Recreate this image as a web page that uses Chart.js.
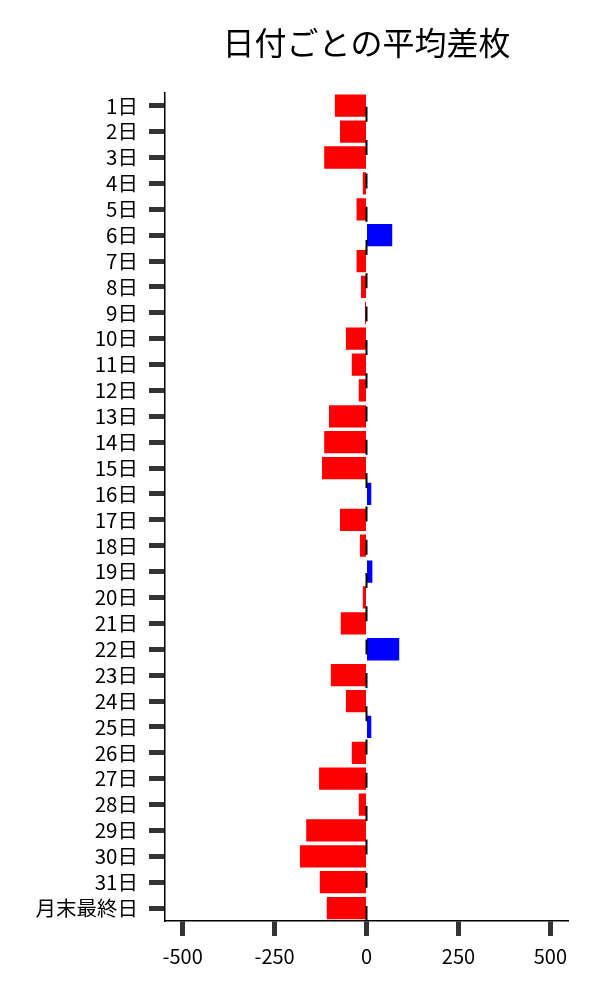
<!DOCTYPE html>
<html>
<head>
<meta charset="utf-8">
<script src="https://cdn.jsdelivr.net/npm/chart.js@4"></script>
<style>
  html, body { margin: 0; padding: 0; background: #fff; }
  #chart { display: block; }
</style>
</head>
<body>
<canvas id="chart" width="600" height="1000"></canvas>
<script>
// Days of the month plus the last-day bucket
const dayLabels = [
  '1日', '2日', '3日', '4日', '5日', '6日', '7日', '8日', '9日', '10日',
  '11日', '12日', '13日', '14日', '15日', '16日', '17日', '18日', '19日', '20日',
  '21日', '22日', '23日', '24日', '25日', '26日', '27日', '28日', '29日', '30日',
  '31日', '月末最終日'
]

// Average difference per day
const avgDiff = [
  -86, -72, -115, -10, -27, 70, -27, -15, -4, -56,
  -40, -21, -102, -115, -121, 13, -72, -18, 16, -10,
  -70, 89, -97, -56, 13, -40, -129, -21, -164, -181,
  -127, -108
]

const xTicks = [-500, -250, 0, 250, 500]
const titleText = '日付ごとの平均差枚'

const FONT = '"Noto Sans CJK JP", "Noto Sans", sans-serif'

// Dashed vertical line at x = 0, drawn above the bars
const zeroLine = {
  id: 'zeroLine',
  afterDatasetsDraw(chart) {
    const { ctx, chartArea, scales } = chart
    const x = scales.x.getPixelForValue(0)
    ctx.save()
    ctx.strokeStyle = '#000'
    ctx.lineWidth = 2
    ctx.setLineDash([15, 18.3])
    ctx.beginPath()
    ctx.moveTo(x, chartArea.bottom)
    ctx.lineTo(x, chartArea.top)
    ctx.stroke()
    ctx.restore()
  }
}

const chart = new Chart(document.getElementById('chart'), {
  type: 'bar',
  data: {
    labels: dayLabels,
    datasets: [{
      data: avgDiff,
      backgroundColor: avgDiff.map(v => (v < 0 ? '#ff0000' : '#0000ff')),
      borderWidth: 0,
      categoryPercentage: 1,
      barPercentage: 0.86
    }]
  },
  options: {
    indexAxis: 'y',
    responsive: false,
    animation: false,
    layout: { padding: { left: 0, right: 32, top: 0, bottom: 0 } },
    plugins: {
      legend: { display: false },
      tooltip: { enabled: false },
      title: {
        display: true,
        text: titleText,
        fullSize: false,
        color: '#000',
        font: { family: FONT, size: 32, weight: 'normal', lineHeight: 1.2 },
        padding: { top: 24, bottom: 30.4 }
      }
    },
    scales: {
      x: {
        min: -548,
        max: 548,
        afterBuildTicks: scale => {
          scale.ticks = xTicks.map(v => ({ value: v }))
        },
        afterFit: scale => { scale.height = 79 },
        grid: {
          drawOnChartArea: false,
          drawTicks: true,
          tickLength: 15,
          tickWidth: 5,
          tickColor: '#333'
        },
        border: { display: true, color: '#000', width: 1.5 },
        ticks: {
          color: '#000',
          padding: 8,
          maxRotation: 0,
          font: { family: FONT, size: 20 }
        }
      },
      y: {
        offset: true,
        afterFit: scale => { scale.width = 165 },
        grid: {
          offset: false,
          drawOnChartArea: false,
          drawTicks: true,
          tickLength: 16,
          tickWidth: 5,
          tickColor: '#333'
        },
        border: { display: true, color: '#000', width: 1.5 },
        ticks: {
          color: '#000',
          padding: 11,
          autoSkip: false,
          font: { family: FONT, size: 20.5 }
        }
      }
    }
  },
  plugins: [zeroLine]
})
</script>
</body>
</html>
